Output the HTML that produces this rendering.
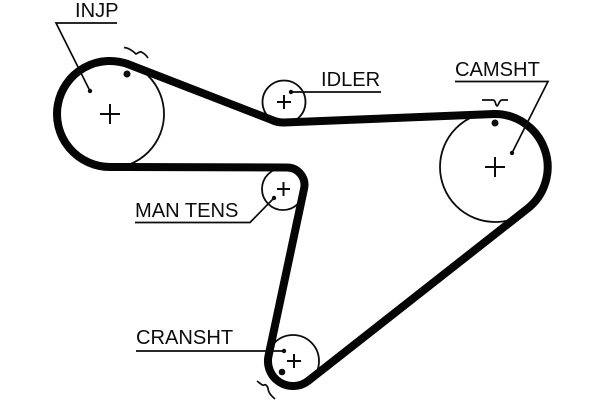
<!DOCTYPE html>
<html>
<head>
<meta charset="utf-8">
<style>
html,body{margin:0;padding:0;background:#fff;width:600px;height:400px;overflow:hidden}
svg{display:block;filter:blur(.35px)}
text{font-family:"Liberation Sans",sans-serif;font-size:20.100px;fill:#0c0c0c}
</style>
</head>
<body>
<svg width="600" height="400" viewBox="0 0 600 400" xmlns="http://www.w3.org/2000/svg">
<g fill="none" stroke="#0c0c0c" stroke-width="1.800">
<circle cx="110" cy="114" r="54"/>
<circle cx="495" cy="167" r="55"/>
<circle cx="284" cy="102" r="21.500"/>
<circle cx="283" cy="189" r="21"/>
<circle cx="293" cy="361" r="26"/>
</g>
<path d="M110 167L287 167.500A17.500 17.500 0 0 1 304 189L268.600 355.500A25 25 0 0 0 308.300 380.800L527 209A53 53 0 0 0 494.500 114L284 122.500C279 122.500 276 122 272 120L129.200 64.600A53 53 0 1 0 110 167Z" fill="none" stroke="#050505" stroke-width="8" stroke-linejoin="round"/>
<g fill="none" stroke="#0c0c0c" stroke-width="2">
<path d="M100 114H120M110 104V124"/>
<path d="M485 167H505M495 157V177"/>
<path d="M277 102H291M284 95V109"/>
<path d="M277 189H290M283.500 182V196"/>
<path d="M287 361H301M294 354V368"/>
</g>
<g fill="none" stroke="#0c0c0c" stroke-width="1.700">
<path d="M117 23H56L90 91"/>
<path d="M455 81.500H548L512 153"/>
<path d="M381 92H291"/>
<path d="M135 222.500H250L274 198"/>
<path d="M136 351H284"/>
<path d="M124 47.500C130 48 134 52 136 54C140 52 140 51 143 53C145 54 146 55 148 58"/>
<path d="M482 100H493C496 100 495 105 497 106C499 105 499 100 502 100H508"/>
<path d="M257 381C261 384 263 386 264 385C266 384 267 386 268 388C268 391 270 395 275 399"/>
</g>
<g fill="#0c0c0c">
<circle cx="90" cy="91" r="2.200"/>
<circle cx="127" cy="74" r="3.500"/>
<circle cx="291" cy="92" r="2.200"/>
<circle cx="512" cy="153" r="2.200"/>
<circle cx="495" cy="123" r="3.500"/>
<circle cx="274" cy="198" r="2.200"/>
<circle cx="284" cy="351" r="2.200"/>
<circle cx="282" cy="372" r="3.300"/>
</g>
<text x="75" y="17">INJP</text>
<text x="321" y="86">IDLER</text>
<text x="455" y="76">CAMSHT</text>
<text x="135" y="217">MAN TENS</text>
<text x="136" y="344">CRANSHT</text>
</svg>
</body>
</html>
